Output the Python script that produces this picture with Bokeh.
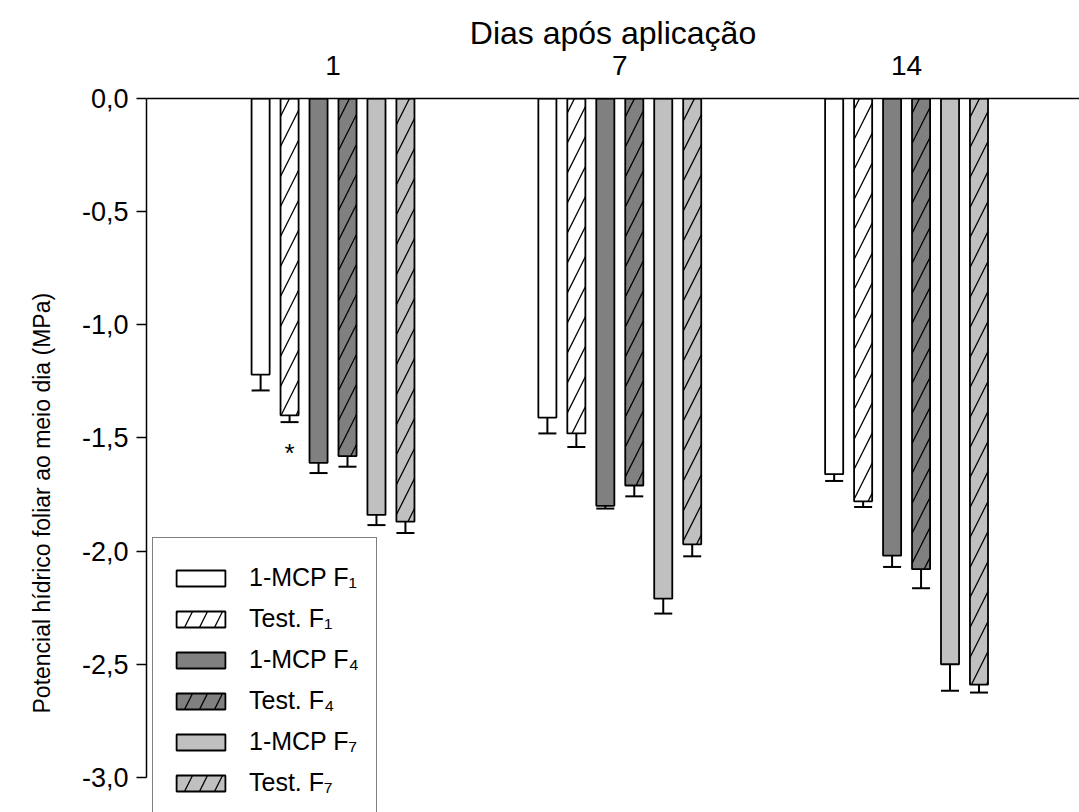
from bokeh.plotting import figure
from bokeh.models import (Range1d, LinearAxis, FixedTicker, Legend, LegendItem,
                          Whisker, TeeHead, ColumnDataSource, Title)
from bokeh.embed import file_html
from bokeh.resources import INLINE
from bokeh.core.properties import value

# ---------------- data ----------------
days = ["1", "7", "14"]
series = ["1-MCP F\u2081", "Test. F\u2081", "1-MCP F\u2084", "Test. F\u2084", "1-MCP F\u2087", "Test. F\u2087"]

mcp_f1 = [-1.22, -1.41, -1.66]
test_f1 = [-1.40, -1.48, -1.78]
mcp_f4 = [-1.61, -1.80, -2.02]
test_f4 = [-1.58, -1.71, -2.08]
mcp_f7 = [-1.84, -2.21, -2.50]
test_f7 = [-1.87, -1.97, -2.59]

err_mcp_f1 = [0.07, 0.07, 0.03]
err_test_f1 = [0.03, 0.06, 0.025]
err_mcp_f4 = [0.045, 0.012, 0.05]
err_test_f4 = [0.047, 0.048, 0.084]
err_mcp_f7 = [0.045, 0.066, 0.117]
err_test_f7 = [0.05, 0.053, 0.035]

y_ticks = [0.0, -0.5, -1.0, -1.5, -2.0, -2.5, -3.0]
y_tick_labels = ["0,0", "-0,5", "-1,0", "-1,5", "-2,0", "-2,5", "-3,0"]

star_day = "1"
star_series = "Test. F\u2081"
star_value = -1.565

values = [mcp_f1, test_f1, mcp_f4, test_f4, mcp_f7, test_f7]
errors = [err_mcp_f1, err_test_f1, err_mcp_f4, err_test_f4, err_mcp_f7, err_test_f7]

# ---------------- styles ----------------
fills = ["white", "white", "#808080", "#808080", "#c0c0c0", "#c0c0c0"]
hatches = [" ", "/", " ", "/", " ", "/"]
FONT = "Liberation Sans"
bar_step = 0.101
bar_width = 0.063

day_pos = [i + 1 for i in range(len(days))]

p = figure(width=1079, height=812,
           x_range=Range1d(0.3496, 3.603), y_range=Range1d(-3.155, 0.0),
           output_backend="svg", toolbar_location=None,
           x_axis_location=None, y_axis_location=None,
           min_border_left=146, min_border_top=98,
           min_border_bottom=0, min_border_right=0)
p.grid.visible = False
p.outline_line_color = None

top_axis = LinearAxis(ticker=FixedTicker(ticks=day_pos),
                      major_label_overrides={d: lab for d, lab in zip(day_pos, days)},
                      major_tick_line_color=None, minor_tick_line_color=None,
                      axis_label="Dias após aplicação",
                      axis_label_text_font=FONT, axis_label_text_font_style="normal",
                      axis_label_text_font_size="32px", axis_label_standoff=2,
                      axis_label_text_color="black",
                      major_label_text_font=FONT, major_label_text_font_size="28px",
                      major_label_text_color="black",
                      major_label_standoff=18, axis_line_width=1.5)
p.add_layout(top_axis, "above")

left_axis = LinearAxis(ticker=FixedTicker(ticks=y_ticks), bounds=(-3.0, 0.0),
                       major_label_overrides={t: lab for t, lab in zip(y_ticks, y_tick_labels)},
                       major_tick_out=10, major_tick_in=0, major_tick_line_width=1.5,
                       minor_tick_line_color=None,
                       major_label_text_font=FONT, major_label_text_font_size="27px",
                       major_label_text_color="black",
                       major_label_standoff=8, axis_line_width=1.5)
p.add_layout(left_axis, "left")

ytitle = Title(text="Potencial hídrico foliar ao meio dia (MPa)", align="left", offset=99,
               text_font=FONT, text_font_size="23px",
               text_font_style="normal", text_color="black", standoff=48)
p.add_layout(ytitle, "left")

items = []
for i, (name, vals, errs) in enumerate(zip(series, values, errors)):
    xs = [d + (i - 2.5) * bar_step for d in day_pos]
    src = ColumnDataSource(dict(x=xs, bottom=vals,
                                lower=[v - e for v, e in zip(vals, errs)]))
    r = p.vbar(x="x", top=0, bottom="bottom", width=bar_width, source=src,
               fill_color=fills[i], line_color="black", line_width=1.8,
               hatch_pattern=hatches[i], hatch_color="black",
               hatch_scale=30, hatch_weight=1.3)
    w = Whisker(base="x", upper="bottom", lower="lower", source=src,
                upper_head=None,
                lower_head=TeeHead(size=18, line_width=2, line_color="black"),
                line_width=2, line_color="black")
    p.add_layout(w)
    items.append(LegendItem(label=name, renderers=[r]))

# significance marker
star_x = day_pos[days.index(star_day)] + (series.index(star_series) - 2.5) * bar_step
p.text(x=[star_x], y=[star_value], text=["*"], text_align="center",
       text_baseline="middle", text_font=value(FONT), text_font_size="26px")

legend = Legend(items=items, location=(6, -3),
                glyph_width=61, glyph_height=20, label_height=20, spacing=12,
                padding=17, margin=0, label_standoff=18,
                label_text_font=FONT, label_text_font_size="25px",
                label_text_color="black",
                title=" ", title_text_font_size="6px", title_standoff=2,
                border_line_color="black", border_line_width=1.5,
                background_fill_color="white", background_fill_alpha=1.0)
p.add_layout(legend)

open("out.html", "w").write(file_html(p, INLINE))
